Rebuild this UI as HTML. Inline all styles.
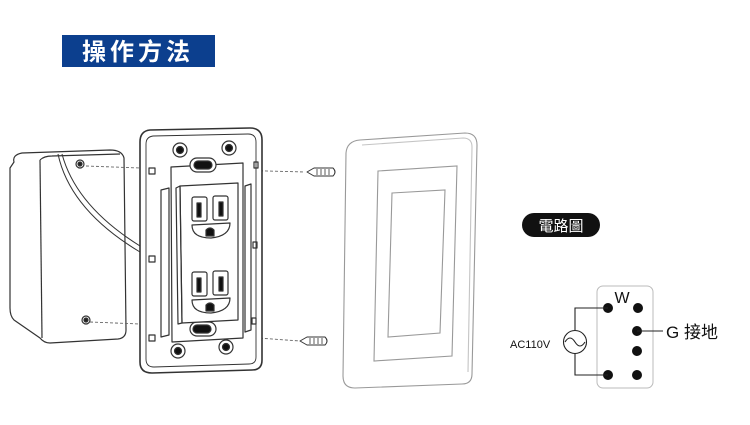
<!DOCTYPE html>
<html><head><meta charset="utf-8"><style>
html,body{margin:0;padding:0;background:#fff;width:750px;height:425px;overflow:hidden}
svg{display:block}
text{font-family:"Liberation Sans","Noto Sans CJK TC",sans-serif}
</style></head><body>
<svg width="750" height="425" viewBox="0 0 750 425" xmlns="http://www.w3.org/2000/svg">
<rect x="62" y="35" width="153" height="32" fill="#0c3f8e"/>
<text x="138" y="60" font-size="24" font-weight="bold" fill="#fff" text-anchor="middle" letter-spacing="4" font-family="'Noto Sans CJK TC',sans-serif">操作方法</text>

<g fill="none" stroke="#333" stroke-width="1.2" stroke-linejoin="round">
<path d="M14,162 Q12,155 22,153 L110,150 Q122,150 124,158 L126,330 Q126,338 118,339 L50,343 Q44,343 40,338 L14,320 Q10,316 10,308 L10,168 Z" fill="#fff"/>
<path d="M40,160 Q44,156 52,156 L120,154"/>
<path d="M40,160 L42,338"/>
<path d="M58,154 Q70,210 140,252 M62,154 Q76,206 140,246" stroke-width="1"/>
<circle cx="80" cy="164" r="4"/><circle cx="80" cy="164" r="2" fill="#222"/>
<circle cx="86" cy="320" r="4"/><circle cx="86" cy="320" r="2" fill="#222"/>

<path d="M86,166 L140,168 M230,170 L305,172 M90,322 L140,324 M230,336 L300,341" stroke="#666" stroke-width="0.9" stroke-dasharray="3,2"/>

<path d="M150,130 L250,128 Q262,128 262,140 L262,360 Q262,370 252,370 L152,373 Q140,373 140,362 L140,142 Q140,131 150,130 Z" fill="#fff" stroke-width="1.6"/>
<path d="M153,136 L248,134 Q256,134 256,142 L256,357 Q256,364 249,364 L154,367 Q146,367 146,359 L146,144 Q146,137 153,136 Z" stroke-width="0.9"/>
<circle cx="180" cy="150" r="7"/><circle cx="180" cy="150" r="3.5" fill="#111"/>
<circle cx="229" cy="148" r="7"/><circle cx="229" cy="148" r="3.5" fill="#111"/>
<circle cx="178" cy="351" r="7"/><circle cx="178" cy="351" r="3.5" fill="#111"/>
<circle cx="226" cy="347" r="7"/><circle cx="226" cy="347" r="3.5" fill="#111"/>
<rect x="149" y="168" width="6" height="6"/><rect x="149" y="256" width="6" height="6"/><rect x="149" y="335" width="6" height="6"/>
<rect x="254" y="162" width="4" height="6"/><rect x="253" y="242" width="4" height="6"/><rect x="252" y="318" width="4" height="6"/>
<path d="M171,167 L243,163 L243,338 L172,342 Z"/>
<path d="M161,190 L169,188 L169,335 L161,337 Z"/>
<path d="M245,186 L251,184 L251,330 L245,332 Z"/>
<rect x="190" y="158" width="26" height="14" rx="7" fill="#fff"/><rect x="194" y="161" width="18" height="8" rx="4" fill="#111"/>
<rect x="190" y="322" width="26" height="14" rx="7" fill="#fff"/><rect x="193" y="325" width="18" height="8" rx="4" fill="#111"/>
<path d="M180,186 L238,183 L238,320 L182,323 Z" fill="#fff"/>
<path d="M176,188 L180,186 L182,323 L178,324 Z"/>
<rect x="192" y="197" width="15" height="24" rx="2"/><rect x="197" y="203" width="4" height="14" fill="#111"/>
<rect x="213" y="196" width="15" height="24" rx="2"/><rect x="219" y="202" width="4" height="14" fill="#111"/>
<path d="M192,225 L230,223 Q230,236 211,238 Q192,238 192,225 Z"/><path d="M206,236 L206,230 Q210,226 214,230 L214,236 Z" fill="#111"/>
<rect x="192" y="272" width="15" height="24" rx="2"/><rect x="197" y="278" width="4" height="14" fill="#111"/>
<rect x="213" y="271" width="15" height="24" rx="2"/><rect x="219" y="277" width="4" height="14" fill="#111"/>
<path d="M192,300 L230,298 Q230,311 211,313 Q192,313 192,300 Z"/><path d="M206,311 L206,305 Q210,301 214,305 L214,311 Z" fill="#111"/>

<path d="M307,172 L314,168 L333,168 Q337,172 333,176 L314,176 Z" stroke-width="1"/>
<path d="M317,169 L317,175 M321,169 L321,175 M325,169 L325,175 M329,169 L329,175" stroke-width="0.8"/>
<path d="M300,341 L307,337 L325,337 Q329,341 325,345 L307,345 Z" stroke-width="1"/>
<path d="M310,338 L310,344 M314,338 L314,344 M318,338 L318,344 M322,338 L322,344" stroke-width="0.8"/>
</g>

<g fill="none" stroke="#999" stroke-width="1.1">
<path d="M360,140 L465,133 Q477,133 477,145 L472,374 Q472,384 462,384 L355,388 Q343,388 343,376 L346,153 Q347,141 360,140 Z"/>
<path d="M362,145 L463,138 Q472,138 472,147 L468,372" stroke="#c4c4c4"/>
<path d="M378,171 L457,166 L452,356 L374,361 Z"/>
<path d="M392,193 L445,190 L440,333 L388,337 Z"/>
</g>

<rect x="522" y="213" width="78" height="24" rx="12" fill="#111"/>
<text x="561" y="231" font-size="15" fill="#fff" text-anchor="middle" font-family="'Noto Serif CJK SC',serif">電路圖</text>
<rect x="597" y="286" width="56" height="102" rx="6" fill="none" stroke="#bbb" stroke-width="1"/>
<text x="622" y="303" font-size="16" text-anchor="middle" fill="#111">W</text>
<g fill="#111">
<circle cx="608" cy="308" r="5"/><circle cx="638" cy="308" r="5"/>
<circle cx="637" cy="331" r="5"/><circle cx="637" cy="351" r="5"/>
<circle cx="608" cy="375" r="5"/><circle cx="637" cy="375" r="5"/>
</g>
<g fill="none" stroke="#222" stroke-width="1.1">
<path d="M608,308 L575,308 L575,330 M575,353 L575,375 L608,375 M637,331 L663,331"/>
<circle cx="575" cy="342" r="11.5"/>
<path d="M565,342 Q570,334 575,342 Q580,350 585,342"/>
</g>
<text x="510" y="348" font-size="11" fill="#111">AC110V</text>
<text x="666" y="338" font-size="17" fill="#111">G</text>
<text x="684" y="338" font-size="17" fill="#111" font-family="'Noto Sans CJK TC',sans-serif">接地</text>
</svg>
</body></html>
